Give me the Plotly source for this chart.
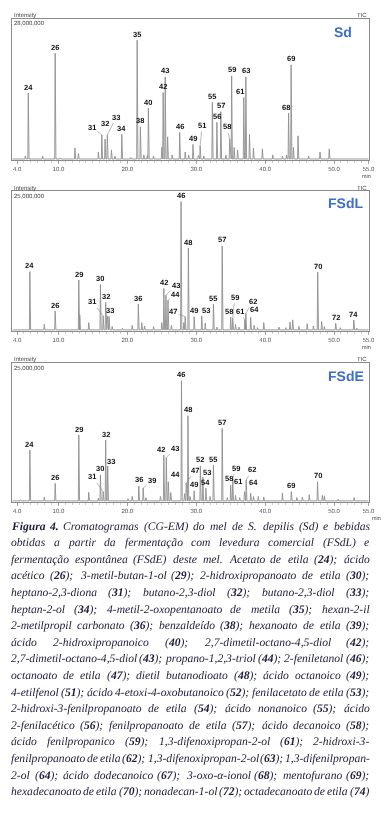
import plotly.graph_objects as go

W, H = 388, 814

# ---------------- data ----------------
X_RANGE = [3.24, 55.1]
TICK_VALS = [4, 10, 20, 30, 40, 50, 55]
TICK_TEXT = ["4.0", "10.0", "20.0", "30.0", "40.0", "50.0", "55.0"]

# Sd (honey) - intensities in millions
SD_LABELS = ["24", "26", "31", "32", "33", "34", "35", "38", "40", "42", "43", "46", "49", "51",
             "55", "56", "57", "58", "59", "61", "63", "68", "69"]
SD_RT = [5.63, 9.53, 16.3, 16.77, 17.1, 19.2, 21.43, 21.9, 23.06, 25.2, 25.5, 27.6, 29.53, 30.57,
         32.34, 33.0, 33.57, 34.86, 35.14, 36.9, 37.2, 43.4, 43.77]
SD_H = [13.3, 21.2, 4.96, 4.17, 4.96, 5.1, 23.8, 6.6, 10.3, 13.4, 16.5, 5.5, 3.1, 2.85,
        11.45, 7.5, 9.6, 4.17, 16.7, 12.4, 16.5, 9.3, 18.9]
SD_MINOR_RT = [5.2, 7.7, 10.3, 12.4, 12.9, 15.8, 17.7, 18.2, 20.5, 22.4, 22.9, 23.8, 25.0, 25.85,
               26.5, 28.4, 28.9, 30.3, 31.1, 34.3, 35.5, 36.0, 37.73, 38.3, 39.6, 41.1, 42.5,
               43.1, 44.1, 44.77, 46.3, 47.96, 49.3]
SD_MINOR_H = [0.8, 0.8, 0.4, 2.4, 1.3, 1.6, 2.0, 0.8, 0.5, 1.0, 0.9, 0.8, 2.5, 4.6,
              1.0, 1.6, 1.0, 0.9, 0.8, 1.0, 2.5, 2.0, 5.1, 2.4, 2.2, 1.0, 0.8,
              1.0, 2.5, 4.8, 0.8, 1.6, 2.2]

# FSdL (commercial yeast)
FL_LABELS = ["24", "26", "29", "30", "31", "32", "33", "36", "42", "43", "44", "46", "47", "48",
             "49", "53", "55", "57", "58", "59", "61", "62", "64", "70", "72", "74"]
FL_RT = [5.86, 9.53, 12.96, 16.1, 16.5, 16.86, 17.1, 21.6, 25.3, 25.6, 25.9, 27.8, 28.4, 28.86,
         29.7, 30.8, 32.5, 33.77, 35.0, 35.3, 37.05, 37.2, 37.9, 47.63, 50.24, 52.87]
FL_H = [10.6, 3.57, 9.1, 8.3, 2.7, 5.1, 2.7, 4.8, 7.6, 6.4, 5.5, 23.1, 2.55, 14.8,
        2.55, 2.7, 4.8, 15.2, 2.5, 2.27, 1.96, 3.16, 2.45, 10.5, 1.38, 1.96]
FL_MINOR_RT = [4.6, 7.95, 13.1, 14.4, 17.35, 17.8, 19.3, 20.7, 22.1, 22.5, 23.8, 25.0, 26.4, 28.2,
               31.3, 33.0, 35.7, 36.2, 38.4, 38.9, 39.8, 42.0, 43.0, 43.6, 44.0, 44.9, 46.1,
               47.0, 48.2, 48.6, 50.9, 53.3]
FL_MINOR_H = [0.3, 1.2, 2.9, 1.5, 2.6, 0.8, 0.5, 1.0, 1.5, 0.9, 0.8, 1.5, 1.0, 1.5,
              1.4, 0.7, 1.2, 0.7, 1.0, 0.6, 1.5, 0.7, 0.6, 1.6, 2.0, 0.8, 1.3,
              0.9, 1.7, 0.8, 0.6, 0.5]

# FSdE (spontaneous fermentation)
FE_LABELS = ["24", "26", "29", "30", "31", "32", "33", "36", "39", "42", "43", "44", "46", "47",
             "48", "49", "52", "53", "54", "55", "57", "58", "59", "61", "62", "64", "69", "70"]
FE_RT = [5.86, 9.53, 12.96, 16.1, 16.5, 16.86, 17.15, 21.67, 22.3, 25.3, 25.66, 25.95, 27.86, 28.55,
         28.8, 29.7, 30.6, 30.96, 31.4, 32.5, 33.77, 35.0, 35.3, 37.0, 37.25, 37.9, 43.8, 47.6]
FE_H = [9.35, 3.36, 12.05, 4.86, 1.85, 11.15, 6.47, 2.88, 2.52, 8.45, 8.0, 3.6, 21.8, 3.4,
        15.5, 2.0, 6.5, 4.5, 2.5, 6.65, 13.25, 3.06, 4.26, 1.85, 3.96, 1.6, 1.85, 3.65]
FE_MINOR_RT = [4.5, 7.95, 14.4, 15.8, 20.1, 20.7, 22.7, 24.8, 26.3, 28.3, 29.1, 32.0, 34.5, 35.7,
               36.3, 38.3, 39.0, 39.8, 42.5, 44.6, 45.4, 46.4, 48.3, 48.6, 50.6, 52.9]
FE_MINOR_H = [0.4, 0.9, 1.75, 0.7, 0.6, 1.0, 0.8, 1.0, 1.7, 1.5, 1.0, 1.0, 0.8, 1.2,
              0.8, 1.0, 1.0, 0.9, 1.6, 0.8, 0.9, 1.3, 1.2, 1.1, 0.5, 0.8]

PANEL_NAMES = ["Sd", "FSdL", "FSdE"]
Y_MAX = [28, 25, 25]
Y_MAX_TEXT = ["28,000,000", "25,000,000", "25,000,000"]

CAPTION = [
    "<b>Figura</b> <b>4.</b> Cromatogramas (CG-EM) do mel de S. depilis (Sd) e bebidas",
    "obtidas a partir da fermentação com levedura comercial (FSdL) e",
    "fermentação espontânea (FSdE) deste mel. Acetato de etila (<b>24</b>); ácido",
    "acético (<b>26</b>); 3-metil-butan-1-ol (<b>29</b>); 2-hidroxipropanoato de etila (<b>30</b>);",
    "heptano-2,3-diona (<b>31</b>); butano-2,3-diol (<b>32</b>); butano-2,3-diol (<b>33</b>);",
    "heptan-2-ol (<b>34</b>); 4-metil-2-oxopentanoato de metila (<b>35</b>); hexan-2-il",
    "2-metilpropil carbonato (<b>36</b>); benzaldeído (<b>38</b>); hexanoato de etila (<b>39</b>);",
    "ácido 2-hidroxipropanoico (<b>40</b>); 2,7-dimetil-octano-4,5-diol (<b>42</b>);",
    "2,7-dimetil-octano-4,5-diol (<b>43</b>); propano-1,2,3-triol (<b>44</b>); 2-feniletanol (<b>46</b>);",
    "octanoato de etila (<b>47</b>); dietil butanodioato (<b>48</b>); ácido octanoico (<b>49</b>);",
    "4-etilfenol (<b>51</b>); ácido 4-etoxi-4-oxobutanoico (<b>52</b>); fenilacetato de etila (<b>53</b>);",
    "2-hidroxi-3-fenilpropanoato de etila (<b>54</b>); ácido nonanoico (<b>55</b>); ácido",
    "2-fenilacético (<b>56</b>); fenilpropanoato de etila (<b>57</b>); ácido decanoico (<b>58</b>);",
    "ácido fenilpropanico (<b>59</b>); 1,3-difenoxipropan-2-ol (<b>61</b>); 2-hidroxi-3-",
    "fenilpropanoato de etila (<b>62</b>); 1,3-difenoxipropan-2-ol (<b>63</b>); 1,3-difenilpropan-",
    "2-ol (<b>64</b>); ácido dodecanoico (<b>67</b>); 3-oxo-α-ionol (<b>68</b>); mentofurano (<b>69</b>);",
    "hexadecanoato de etila (<b>70</b>); nonadecan-1-ol (<b>72</b>); octadecanoato de etila (<b>74</b>)",
]

# ---------------- layout / style ----------------
PANEL_BOX = [(19, 160), (191, 331), (363, 502)]      # top, bottom in px
FRAME_X = (12, 375)
TAG_POS = [(348, 32), (351, 203), (351, 376)]
MIN_POS = [(377, "right"), (377, "right"), (377.5, "left")]
TAG_COLOR = "#3f70c8"
LINE_COLOR = "#8e8e8e"
FRAME_COLOR = "#8a8a8a"

# label placement offsets (dx px, dy px, leader line)
OFFSETS = [
    {"31": (-10, -8, True), "32": (0, -15, False), "33": (9, -18, True), "51": (2, -20, True),
     "58": (-3, -12, True), "61": (-4, -6, False), "68": (-3, -6, False)},
    {"31": (-11, -14, True), "33": (3, -5, False), "43": (10, -10, True), "44": (8, -6, True),
     "47": (-12, -5, True), "53": (4, -5, False), "58": (-2, -6, False), "59": (2, -21, True),
     "61": (-5, -9, True), "62": (7, -12, True), "64": (4, -8, False)},
    {"31": (-11, -15, True), "33": (3, -5, False), "39": (9, -7, True), "42": (-3, -6, False),
     "43": (9, -9, True), "44": (7, -7, True), "47": (9, -13, True), "53": (4, -4, False),
     "58": (-2, -6, False), "59": (3, -10, True), "61": (-6, -10, False), "62": (6, -10, True),
     "64": (3, -11, False)},
]

CAP_X0, CAP_X1 = 12, 376
CAP_Y0, CAP_DY = 526, 16.6
CAP_COLOR = "#1c1c3a"

DATA = [
    (SD_LABELS, SD_RT, SD_H, SD_MINOR_RT, SD_MINOR_H),
    (FL_LABELS, FL_RT, FL_H, FL_MINOR_RT, FL_MINOR_H),
    (FE_LABELS, FE_RT, FE_H, FE_MINOR_RT, FE_MINOR_H),
]


def px_x(x):
    return x / W


def px_y(y):
    return 1 - y / H


fig = go.Figure()
annotations = []
BASE = 0.2

for i, (labels, rts, hs, mrts, mhs) in enumerate(DATA):
    sfx = "" if i == 0 else str(i + 1)
    xref, yref = "x" + sfx, "y" + sfx
    top, bottom = PANEL_BOX[i]

    peaks = sorted(list(zip(rts, hs)) + list(zip(mrts, mhs)))
    xs, ys = [X_RANGE[0] + 0.1], [BASE]
    for rt, h in peaks:
        xs += [rt - 0.07, rt, rt + 0.11]
        ys += [BASE, h, BASE]
    xs.append(X_RANGE[1] - 0.1)
    ys.append(BASE)
    fig.add_trace(go.Scatter(x=xs, y=ys, mode="lines", xaxis=xref, yaxis=yref,
                             line=dict(color=LINE_COLOR, width=0.9), hoverinfo="skip",
                             showlegend=False))

    fig.layout["xaxis" + sfx] = dict(
        domain=[px_x(FRAME_X[0]), px_x(FRAME_X[1])], range=X_RANGE, anchor=yref,
        showline=True, mirror=True, linecolor=FRAME_COLOR, linewidth=1,
        tickmode="array", tickvals=TICK_VALS, ticktext=TICK_TEXT, ticks="outside",
        ticklen=3, tickcolor=FRAME_COLOR, tickwidth=0.7,
        tickfont=dict(size=6, color="#555", family="Liberation Sans"),
        minor=dict(tickmode="linear", tick0=0, dtick=1, ticks="outside", ticklen=2,
                   tickcolor="#aaaaaa", tickwidth=0.6),
        showgrid=False, zeroline=False, fixedrange=True)
    fig.layout["yaxis" + sfx] = dict(
        domain=[px_y(bottom), px_y(top)], range=[0, Y_MAX[i]], anchor=xref,
        showline=True, mirror=True, linecolor=FRAME_COLOR, linewidth=1,
        showticklabels=False, ticks="", showgrid=False, zeroline=False, fixedrange=True)

    # peak labels
    for lab, rt, h in zip(labels, rts, hs):
        dx, dy, lead = OFFSETS[i].get(lab, (0, -6, False))
        base = dict(x=rt, y=h, xref=xref, yref=yref, text="<b>%s</b>" % lab,
                    font=dict(size=7.5, color="#111111", family="Liberation Sans"))
        if lead:
            base.update(showarrow=True, arrowhead=0, arrowwidth=0.6, arrowcolor="#8a8a8a",
                        ax=dx, ay=dy, standoff=0, startstandoff=0)
        else:
            base.update(showarrow=False, xanchor="center", yanchor="middle",
                        xshift=dx, yshift=-dy)
        annotations.append(base)

    small = dict(size=6, color="#444", family="Liberation Sans")
    annotations.append(dict(x=px_x(FRAME_X[0]), y=px_y(top - 3.5), xref="paper", yref="paper",
                            text="Intensity", showarrow=False, xanchor="left", yanchor="middle",
                            font=small))
    annotations.append(dict(x=px_x(FRAME_X[0]), y=px_y(top + 4.5), xref="paper", yref="paper",
                            text=Y_MAX_TEXT[i], showarrow=False, xanchor="left", yanchor="middle",
                            font=small))
    annotations.append(dict(x=px_x(FRAME_X[1]), y=px_y(top - 3.5), xref="paper", yref="paper",
                            text="TIC", showarrow=False, xanchor="right", yanchor="middle",
                            font=small))
    mx, manchor = MIN_POS[i]
    annotations.append(dict(x=px_x(mx), y=px_y(bottom + 15.5), xref="paper",
                            yref="paper", text="min", showarrow=False, xanchor=manchor,
                            yanchor="middle", borderpad=0, borderwidth=0,
                            font=dict(size=5.5, color="#444", family="Liberation Sans")))
    tx, ty = TAG_POS[i]
    annotations.append(dict(x=px_x(tx), y=px_y(ty), xref="paper", yref="paper",
                            text="<b>%s</b>" % PANEL_NAMES[i], showarrow=False,
                            xanchor="center", yanchor="middle",
                            font=dict(size=14, color=TAG_COLOR, family="Liberation Sans")))

# ---------------- caption (justified, word by word) ----------------
TI = {'a': 500, 'b': 500, 'c': 444, 'd': 500, 'e': 444, 'f': 278, 'g': 500, 'h': 500, 'i': 278,
      'j': 278, 'k': 444, 'l': 278, 'm': 722, 'n': 500, 'o': 500, 'p': 500, 'q': 500, 'r': 389,
      's': 389, 't': 278, 'u': 500, 'v': 444, 'w': 667, 'x': 444, 'y': 444, 'z': 389,
      'á': 500, 'ã': 500, 'â': 500, 'é': 444, 'ê': 444, 'í': 278, 'ó': 500, 'õ': 500, 'ç': 444,
      'α': 530, '(': 333, ')': 333, ';': 333, ',': 250, '.': 250, '-': 333, ':': 333,
      'A': 611, 'C': 667, 'D': 722, 'E': 611, 'F': 611, 'G': 722, 'L': 556, 'M': 833, 'S': 500}
BI = {'F': 667, 'i': 278, 'g': 500, 'u': 556, 'r': 389, 'a': 500, '.': 250}


def word_em(word):
    total, bold, k = 0, False, 0
    while k < len(word):
        if word.startswith("<b>", k):
            bold, k = True, k + 3
            continue
        if word.startswith("</b>", k):
            bold, k = False, k + 4
            continue
        ch = word[k]
        if bold and ch in BI:
            total += BI[ch]
        else:
            total += TI.get(ch, 500)
        k += 1
    return total / 1000.0


col_w = CAP_X1 - CAP_X0
line_words = [ln.split(" ") for ln in CAPTION]
nat = [sum(word_em(w) for w in ws) + 0.2 * (len(ws) - 1) for ws in line_words]
fsize = max(11.0, min(13.0, col_w / max(nat)))

for li, ws in enumerate(line_words):
    widths = [word_em(w) * fsize for w in ws]
    gap = (col_w - sum(widths)) / max(1, len(ws) - 1)
    gap = max(gap, 0.12 * fsize)
    xpos = CAP_X0
    yc = CAP_Y0 + li * CAP_DY
    for w, wd in zip(ws, widths):
        annotations.append(dict(x=px_x(xpos - 1), y=px_y(yc), xref="paper", yref="paper",
                                text="<i>%s</i>" % w, showarrow=False, xanchor="left",
                                yanchor="middle", borderpad=0, borderwidth=0,
                                font=dict(size=fsize, color=CAP_COLOR, family="Liberation Serif")))
        xpos += wd + gap

fig.update_layout(width=W, height=H, margin=dict(l=0, r=0, t=0, b=0),
                  paper_bgcolor="white", plot_bgcolor="white", showlegend=False,
                  annotations=annotations)

POST = ("document.body.style.margin='0';document.body.style.overflow='hidden';"
        "var st=document.createElement('style');"
        "st.textContent='svg text{-webkit-font-smoothing:antialiased;text-rendering:geometricPrecision;}"
        " .main-svg{will-change:transform;}';"
        "document.head.appendChild(st);")

fig.write_html("out.html", config={"displayModeBar": False, "staticPlot": True},
               post_script=POST)
